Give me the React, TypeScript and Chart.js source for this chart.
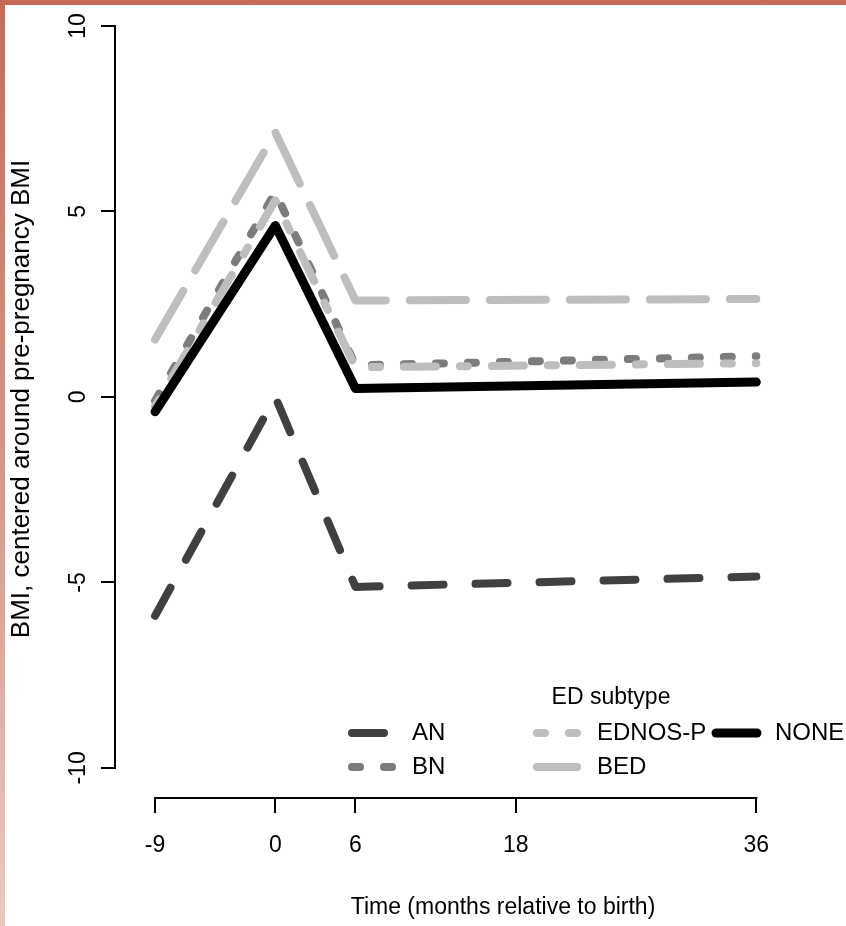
import React, { useEffect, useRef } from 'react';
import { Chart, registerables } from 'chart.js';

Chart.register(...registerables);

const FONT = '"Liberation Sans", Arial, Helvetica, sans-serif';

// ---- data ----
const months = [-9, 0, 6, 36];
const xTicks = [-9, 0, 6, 18, 36];
const yTicks = [-10, -5, 0, 5, 10];
const seriesNames = ['AN', 'BN', 'EDNOS-P', 'BED', 'NONE'];
const anValues = [-5.9, 0.0, -5.12, -4.84];
const bnValues = [-0.1, 5.52, 0.85, 1.1];
const ednosValues = [-0.25, 5.3, 0.8, 0.91];
const bedValues = [1.55, 7.13, 2.6, 2.64];
const noneValues = [-0.4, 4.62, 0.23, 0.4];
const seriesValues = [anValues, bnValues, ednosValues, bedValues, noneValues];
const seriesColors = ['#404040', '#7c7c7c', '#bebebe', '#bebebe', '#000000'];
const seriesDashes: number[][] = [[32, 32], [8, 24], [8, 24, 32, 24], [56, 24], []];
const seriesWidths = [8, 8, 8, 8, 9];
const legendTitle = 'ED subtype';
const xTitle = 'Time (months relative to birth)';
const yTitle = 'BMI, centered around pre-pregnancy BMI';

// R-style axis lines spanning only the tick range
const axisLinePlugin = {
  id: 'rAxisLines',
  afterDraw(chart: any) {
    const { ctx, chartArea, scales } = chart;
    const xs = scales.x;
    const ys = scales.y;
    ctx.save();
    ctx.strokeStyle = '#000';
    ctx.lineWidth = 2;
    ctx.lineCap = 'square';
    ctx.beginPath();
    ctx.moveTo(xs.getPixelForValue(xTicks[0]), chartArea.bottom);
    ctx.lineTo(xs.getPixelForValue(xTicks[xTicks.length - 1]), chartArea.bottom);
    ctx.moveTo(chartArea.left, ys.getPixelForValue(yTicks[0]));
    ctx.lineTo(chartArea.left, ys.getPixelForValue(yTicks[yTicks.length - 1]));
    ctx.stroke();
    ctx.restore();
  },
};

// R-style legend (3 columns, filled column by column)
const legendSlots = [
  { x0: 352, x1: 392, tx: 412, y: 733 },
  { x0: 352, x1: 392, tx: 412, y: 767 },
  { x0: 537, x1: 577, tx: 597, y: 733 },
  { x0: 537, x1: 577, tx: 597, y: 767 },
  { x0: 716, x1: 757, tx: 775, y: 733 },
];

const legendPlugin = {
  id: 'rLegend',
  afterDraw(chart: any) {
    const ctx = chart.ctx;
    ctx.save();
    ctx.fillStyle = '#000';
    ctx.font = `23px ${FONT}`;
    ctx.textAlign = 'center';
    ctx.textBaseline = 'middle';
    ctx.fillText(legendTitle, 611, 698);
    ctx.textAlign = 'left';
    seriesNames.forEach((name, i) => {
      const s = legendSlots[i];
      ctx.save();
      ctx.strokeStyle = seriesColors[i];
      ctx.lineWidth = seriesWidths[i];
      ctx.lineCap = 'round';
      ctx.setLineDash(seriesDashes[i]);
      ctx.beginPath();
      ctx.moveTo(s.x0, s.y);
      ctx.lineTo(s.x1, s.y);
      ctx.stroke();
      ctx.restore();
      ctx.fillStyle = '#000';
      ctx.font = `24px ${FONT}`;
      ctx.fillText(name, s.tx, s.y);
    });
    ctx.restore();
  },
};

export default function App() {
  const canvasRef = useRef<HTMLCanvasElement | null>(null);

  useEffect(() => {
    if (!canvasRef.current) return;
    Chart.defaults.font.family = FONT;
    const datasets = seriesNames.map((name, i) => ({
      label: name,
      data: months.map((m, j) => ({ x: m, y: seriesValues[i][j] })),
      borderColor: seriesColors[i],
      backgroundColor: seriesColors[i],
      borderWidth: seriesWidths[i],
      borderDash: seriesDashes[i],
      borderCapStyle: 'round' as const,
      borderJoinStyle: 'round' as const,
      pointRadius: 0,
      tension: 0,
      fill: false,
      clip: false as any,
      order: seriesNames.length - i,
    }));

    const chart = new Chart(canvasRef.current, {
      type: 'line',
      data: { datasets },
      plugins: [axisLinePlugin, legendPlugin],
      options: {
        animation: false,
        responsive: true,
        maintainAspectRatio: false,
        layout: { padding: { top: 0, right: 49, bottom: 0, left: 0 } },
        plugins: { legend: { display: false }, tooltip: { enabled: false } },
        scales: {
          x: {
            type: 'linear',
            min: -12,
            max: 46.08,
            afterBuildTicks: (s: any) => {
              s.ticks = xTicks.map((v) => ({ value: v }));
            },
            afterFit: (s: any) => {
              s.height = 128;
              s.paddingLeft = 0;
              s.paddingRight = 0;
            },
            grid: {
              display: true,
              drawOnChartArea: false,
              drawTicks: true,
              tickLength: 15,
              color: '#000',
              lineWidth: 2,
            },
            border: { display: false },
            ticks: {
              autoSkip: false,
              maxRotation: 0,
              minRotation: 0,
              padding: 19,
              color: '#000',
              font: { size: 23, family: FONT },
              callback: (v: any) => String(v),
            },
            title: {
              display: true,
              text: xTitle,
              color: '#000',
              font: { size: 23, family: FONT },
              padding: { top: 0, bottom: 5 },
            },
          },
          y: {
            type: 'linear',
            min: -10.81,
            max: 10.7,
            afterBuildTicks: (s: any) => {
              s.ticks = yTicks.map((v) => ({ value: v }));
            },
            afterFit: (s: any) => {
              s.width = 115;
              s.paddingTop = 0;
              s.paddingBottom = 0;
            },
            grid: {
              display: true,
              drawOnChartArea: false,
              drawTicks: true,
              tickLength: 14,
              color: '#000',
              lineWidth: 2,
            },
            border: { display: false },
            ticks: {
              autoSkip: false,
              minRotation: 90,
              maxRotation: 90,
              crossAlign: 'center',
              padding: 6,
              color: '#000',
              font: { size: 23, family: FONT },
              callback: (v: any) => String(v),
            },
            title: {
              display: true,
              text: yTitle,
              color: '#000',
              font: { size: 26, family: FONT },
              padding: { top: 6, bottom: 0 },
            },
          },
        },
      },
    });
    return () => chart.destroy();
  }, []);

  return (
    <div
      style={{
        position: 'absolute',
        left: 0,
        top: 0,
        width: 846,
        height: 926,
        background: 'linear-gradient(to bottom, #c46b58 0%, #d4968a 50%, #e9c9c0 100%)',
        overflow: 'hidden',
      }}
    >
      <div
        style={{
          position: 'absolute',
          left: 5,
          top: 5,
          width: 841,
          height: 921,
          background: '#ffffff',
        }}
      />
      <div style={{ position: 'absolute', left: 0, top: 0, width: 940, height: 926 }}>
        <canvas ref={canvasRef} />
      </div>
    </div>
  );
}
